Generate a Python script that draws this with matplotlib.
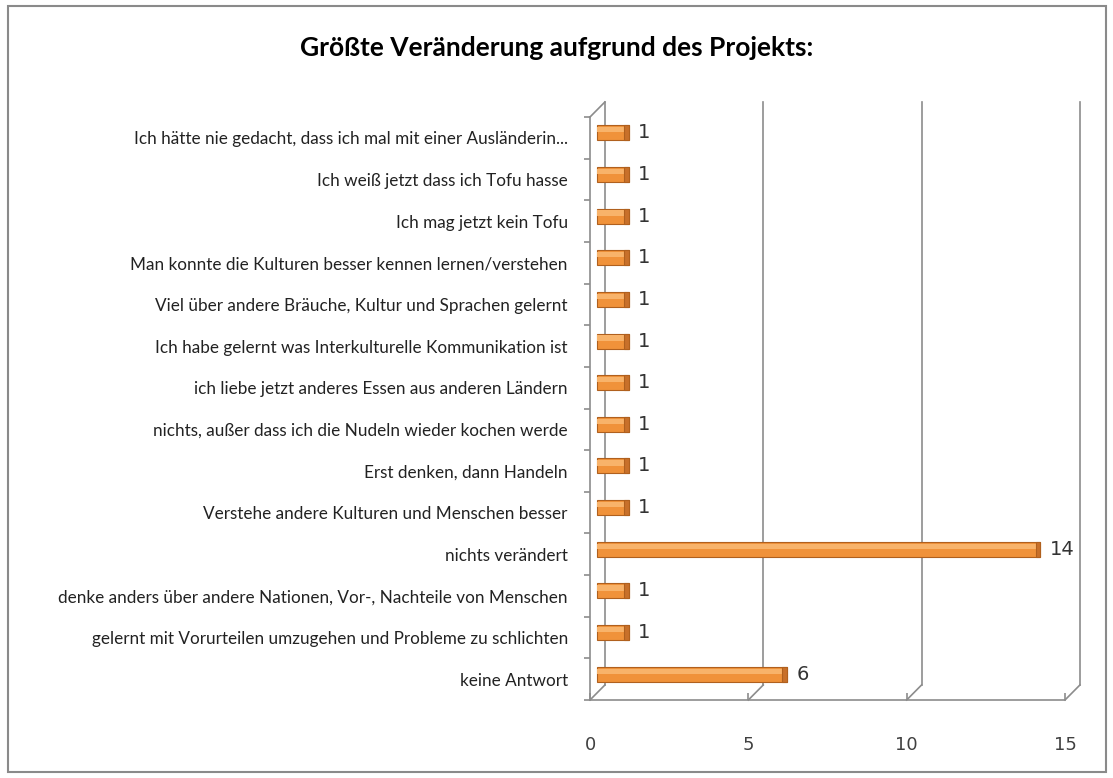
import numpy as np
import matplotlib.pyplot as plt
from matplotlib.transforms import ScaledTranslation
from matplotlib.patches import Rectangle

# Antworten von oben nach unten
antworten = [
    "Ich hätte nie gedacht, dass ich mal mit einer Ausländerin...",
    "Ich weiß jetzt dass ich Tofu hasse",
    "Ich mag jetzt kein Tofu",
    "Man konnte die Kulturen besser kennen lernen/verstehen",
    "Viel über andere Bräuche, Kultur und Sprachen gelernt",
    "Ich habe gelernt was Interkulturelle Kommunikation ist",
    "ich liebe jetzt anderes Essen aus anderen Ländern",
    "nichts, außer dass ich die Nudeln wieder kochen werde",
    "Erst denken, dann Handeln",
    "Verstehe andere Kulturen und Menschen besser",
    "nichts verändert",
    "denke anders über andere Nationen, Vor-, Nachteile von Menschen",
    "gelernt mit Vorurteilen umzugehen und Probleme zu schlichten",
    "keine Antwort",
]
anzahl = [1, 1, 1, 1, 1, 1, 1, 1, 1, 1, 14, 1, 1, 6]
x_ticks = [0, 5, 10, 15]

# unterste Kategorie unten
labels = antworten[::-1]
werte = anzahl[::-1]
pos = np.arange(len(labels))

fig = plt.figure(figsize=(11.13, 7.78), dpi=100)
ax = fig.add_axes([590 / 1113, 78 / 778, 475 / 1113, 583 / 778])
ax.set_xlim(0, 15)
ax.set_ylim(-0.5, len(labels) - 0.5)
for s in ax.spines.values():
    s.set_visible(False)

# Verschiebungen fuer den 3D-Effekt (Pixel bei dpi=100)
back = ax.transData + ScaledTranslation(0.15, 0.15, fig.dpi_scale_trans)
mid = ax.transData + ScaledTranslation(0.07, 0.05, fig.dpi_scale_trans)
lc = "#8c8c8c"
ybot, ytop = -0.5, len(labels) - 0.5

# Rueckwand-Gitter
for xt in x_ticks:
    ax.plot([xt, xt], [ybot, ytop], color=lc, lw=1.2, transform=back, clip_on=False)
    ax.plot([xt, xt + 0.47], [ybot, ybot + 0.36], color=lc, lw=1.2, clip_on=False)
ax.plot([0, 15], [ybot, ybot], color=lc, lw=1.2, clip_on=False)
ax.plot([0, 0], [ybot, ytop], color=lc, lw=1.2, clip_on=False)
ax.plot([0, 0.47], [ytop, ytop + 0.36], color=lc, lw=1.2, clip_on=False)

# Balken
h = 0.36
ax.barh(pos, werte, height=h, color="#F0923A", edgecolor="#B0601E", lw=0.8,
        transform=mid, zorder=3)
ax.barh(pos + h * 0.2, werte, height=h * 0.35, color="#F8B36A", lw=0,
        transform=mid, zorder=4)
ax.barh(pos, [0.15] * len(werte), left=np.array(werte) - 0.15, height=h,
        color="#C8702A", edgecolor="#B0601E", lw=0.8, transform=mid, zorder=5)

for p, v in zip(pos, werte):
    ax.text(v + 0.3, p, str(v), transform=mid, va="center", ha="left",
            fontsize=14, color="#333333", zorder=6)

# Achsen
ax.set_yticks(pos)
ax.set_yticklabels(labels, fontsize=12.3, family="Lato", color="#222222")
ax.set_yticks(np.arange(len(labels) + 1) - 0.5, minor=True)
ax.tick_params(axis="y", which="major", length=0, pad=16)
ax.tick_params(axis="y", which="minor", length=4, color=lc, width=1.2)
ax.set_xticks(x_ticks)
ax.set_xticklabels([str(t) for t in x_ticks], fontsize=13, color="#404040")
ax.tick_params(axis="x", length=5, color=lc, width=1.2, pad=26, direction="in")

fig.text(557 / 1113, 1 - 48 / 778, "Größte Veränderung aufgrund des Projekts:",
         ha="center", va="center", fontsize=19, fontweight="bold", family="Lato")

fig.patches.append(Rectangle((8 / 1113, 6 / 778), 1098 / 1113, 766 / 778,
                             transform=fig.transFigure, fill=False,
                             edgecolor="#8a8a8a", lw=1.5))

plt.savefig("out.png", dpi=100)
